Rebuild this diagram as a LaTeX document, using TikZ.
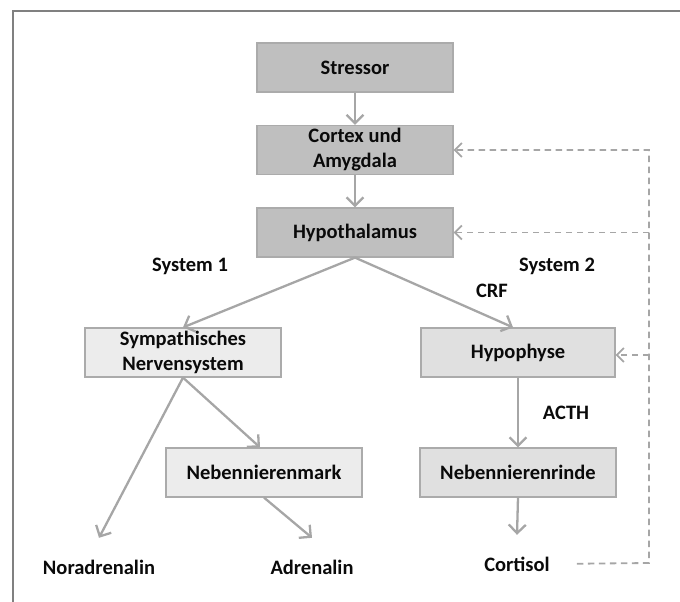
\documentclass[tikz,border=0pt]{standalone}
\usepackage{fontspec}
\setmainfont{Carlito}
\usetikzlibrary{arrows.meta}
\definecolor{darkbox}{HTML}{BFBFBF}
\definecolor{lightbox}{HTML}{ECECEC}
\definecolor{midbox}{HTML}{E0E0E0}
\definecolor{boxline}{HTML}{ABABAB}
\definecolor{arrowgray}{HTML}{A6A6A6}
\definecolor{framegray}{HTML}{808080}
\definecolor{ink}{HTML}{0A0A0A}
\tikzset{
  every node/.style={font=\fontsize{20.5}{25}\selectfont\bfseries, text=ink},
  box/.style={draw=boxline, line width=1.2pt, minimum width=196pt, minimum height=49pt,
              inner sep=0pt, align=center},
  darkstep/.style={box, fill=darkbox},
  lightstep/.style={box, fill=lightbox},
  midstep/.style={box, fill=midbox},
  label/.style={inner sep=0pt, minimum height=58pt},
  flow/.style={draw=arrowgray, line width=2.3pt, -{Straight Barb[length=8.5pt,width=17pt,line width=2.3pt]}},
  fb/.style={draw=arrowgray, line width=1.8pt, dash pattern=on 6.5pt off 4.5pt,
             -{Straight Barb[length=7pt,width=14pt,line width=1.8pt]}},
}
\begin{document}
\begin{tikzpicture}[x=1pt, y=-1pt]
\useasboundingbox (0,0) rectangle (680,602);
% frame along the top and left edges
\draw[framegray, line width=1.6pt] (680,11) -- (13,11) -- (13,602);

% main chain
\node[darkstep] (stressor) at (355,67.5) {Stressor};
\node[darkstep] (cortex) at (355,150) {Cortex und\\Amygdala};
\node[darkstep] (hypo) at (355,232.5) {Hypothalamus};

% system 1
\node[lightstep] (symp) at (183,352.5) {Sympathisches\\Nervensystem};
\node[lightstep] (nnmark) at (264,472.5) {Nebennierenmark};
\node[label] (nor) at (99,567) {Noradrenalin};
\node[label] (adr) at (312,567) {Adrenalin};

% system 2
\node[midstep, minimum width=194pt] (hypophyse) at (518,352.5) {Hypophyse};
\node[midstep] (nnrinde) at (518,472.5) {Nebennierenrinde};
\node[label] (cortisol) at (517,564) {Cortisol};

% labels
\node (sys1) at (190,266) {System 1};
\node (sys2) at (557,266) {System 2};
\node (crf) at (492,291) {CRF};
\node (acth) at (566,413) {ACTH};

% connectors
\draw[flow] (stressor.south) -- (cortex.north);
\draw[flow] (cortex.south) -- (hypo.north);
\draw[flow] (hypo.south) -- (symp.north);
\draw[flow] (hypo.south) -- ([xshift=-5pt]hypophyse.north);
\draw[flow] (symp.south) -- (nor.north);
\draw[flow] (symp.south) -- ([xshift=-4pt]nnmark.north);
\draw[flow] (nnmark.south) -- (adr.north);
\draw[flow] (hypophyse.south) -- (nnrinde.north);
\draw[flow] (nnrinde.south) -- (cortisol.north);

% cortisol feedback
\coordinate (fbbottom) at (649,563);
\coordinate (fbtop) at (649,150);
\draw[fb, shorten <=27pt] (cortisol.east) -- (fbbottom) -- (fbtop) -- (cortex.east);
\draw[fb] (hypo.east -| fbtop) -- (hypo.east);
\draw[fb] ([yshift=-2.5pt]hypophyse.east -| fbtop) -- ([yshift=-2.5pt]hypophyse.east);
\end{tikzpicture}
\end{document}
